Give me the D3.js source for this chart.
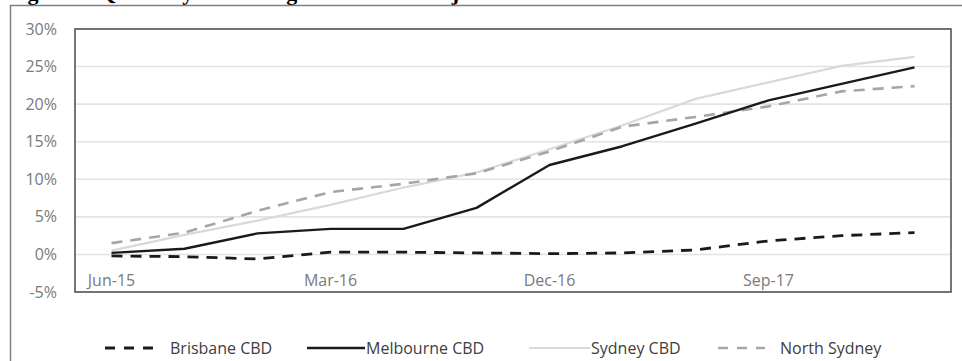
<!DOCTYPE html>
<html>
<head>
<meta charset="utf-8">
<script src="https://cdn.jsdelivr.net/npm/d3@7"></script>
<style>
  html, body { margin: 0; padding: 0; background: #fff; }
  svg { display: block; }
</style>
</head>
<body>
<svg id="chart" width="962" height="361"></svg>
<script>
// Quarterly periods, Jun-15 to Mar-18
const quarters = ["Jun-15","Sep-15","Dec-15","Mar-16","Jun-16","Sep-16","Dec-16","Mar-17","Jun-17","Sep-17","Dec-17","Mar-18"];
const xTickLabels = ["Jun-15","Mar-16","Dec-16","Sep-17"];
const yTicks = [-0.05, 0, 0.05, 0.10, 0.15, 0.20, 0.25, 0.30];

// Cumulative rent growth by market (fraction)
const brisbaneCBD  = [-0.002,-0.003,-0.006, 0.003, 0.003, 0.002, 0.001, 0.002, 0.006, 0.018, 0.025, 0.029];
const melbourneCBD = [ 0.002, 0.0075, 0.028, 0.034, 0.034, 0.062, 0.119, 0.144, 0.174, 0.205, 0.227, 0.249];
const sydneyCBD    = [ 0.005, 0.026, 0.045, 0.066, 0.089, 0.109, 0.140, 0.172, 0.207, 0.229, 0.251, 0.263];
const northSydney  = [ 0.015, 0.029, 0.058, 0.083, 0.094, 0.108, 0.137, 0.170, 0.183, 0.197, 0.217, 0.224];

const seriesNames = ["Brisbane CBD","Melbourne CBD","Sydney CBD","North Sydney"];

const styles = {
  "Brisbane CBD":  { color: "#1a1a1a", width: 2.8, dash: "11,8" },
  "Melbourne CBD": { color: "#1a1a1a", width: 2.4, dash: null },
  "Sydney CBD":    { color: "#d9d9d9", width: 2.2, dash: null },
  "North Sydney":  { color: "#a6a6a6", width: 2.6, dash: "11,8" }
};

const seriesData = {
  "Brisbane CBD": brisbaneCBD,
  "Melbourne CBD": melbourneCBD,
  "Sydney CBD": sydneyCBD,
  "North Sydney": northSydney
};

const svg = d3.select("#chart");
const plot = { left: 75, right: 951, top: 29, bottom: 292 };

// Figure caption (sits above the frame, mostly outside the page)
svg.append("text")
  .attr("x", 8).attr("y", 0)
  .attr("font-family", "Liberation Serif, serif")
  .attr("font-weight", "bold")
  .attr("font-size", 22)
  .attr("fill", "#000")
  .text("Figure 5: Quarterly face rent growth across major CBD markets");

// Outer chart frame
svg.append("path")
  .attr("d", `M10.5,${361 + 5} V5.5 H${962 + 5}`)
  .attr("fill", "none")
  .attr("stroke", "#808080")
  .attr("stroke-width", 1.5);

const x = d3.scaleBand().domain(quarters).range([plot.left, plot.right]);
const y = d3.scaleLinear().domain([-0.05, 0.30]).range([plot.bottom, plot.top]);
const cx = d => x(d) + x.bandwidth() / 2;

// Horizontal gridlines
svg.append("g")
  .selectAll("line")
  .data(yTicks)
  .join("line")
  .attr("x1", plot.left).attr("x2", plot.right)
  .attr("y1", d => y(d)).attr("y2", d => y(d))
  .attr("stroke", "#e3e3e3")
  .attr("stroke-width", 1.6);

// Y axis labels, hyphen-minus for negatives
const pct = d => Math.round(d * 100) + "%";
const yAxis = svg.append("g")
  .attr("transform", `translate(${plot.left},0)`)
  .call(d3.axisLeft(y).tickValues(yTicks).tickFormat(pct).tickSize(0).tickPadding(18));
yAxis.select(".domain").remove();
yAxis.selectAll("text")
  .attr("font-family", "Open Sans, sans-serif")
  .attr("font-size", 16)
  .attr("fill", "#7a7a7a");

// X axis labels, crossing at zero
const xAxis = svg.append("g")
  .attr("transform", `translate(0,${y(0)})`)
  .call(d3.axisBottom(x).tickValues(xTickLabels).tickSize(0).tickPadding(20));
xAxis.select(".domain").remove();
xAxis.selectAll("text")
  .attr("font-family", "Open Sans, sans-serif")
  .attr("font-size", 16)
  .attr("fill", "#7a7a7a");

// Series lines
const line = d3.line()
  .x((d, i) => cx(quarters[i]))
  .y(d => y(d));

const drawOrder = ["Sydney CBD","North Sydney","Melbourne CBD","Brisbane CBD"];
svg.append("g")
  .selectAll("path")
  .data(drawOrder)
  .join("path")
  .attr("d", name => line(seriesData[name]))
  .attr("fill", "none")
  .attr("stroke", name => styles[name].color)
  .attr("stroke-width", name => styles[name].width)
  .attr("stroke-dasharray", name => styles[name].dash)
  .attr("stroke-linejoin", "round");

// Plot area border
svg.append("rect")
  .attr("x", plot.left).attr("y", plot.top)
  .attr("width", plot.right - plot.left)
  .attr("height", plot.bottom - plot.top)
  .attr("fill", "none")
  .attr("stroke", "#555")
  .attr("stroke-width", 1.6);

// Legend
const legendItems = [
  { name: "Brisbane CBD",  x1: 105, x2: 153, tx: 170 },
  { name: "Melbourne CBD", x1: 307, x2: 365, tx: 366 },
  { name: "Sydney CBD",    x1: 529, x2: 590, tx: 591 },
  { name: "North Sydney",  x1: 718, x2: 765, tx: 780 }
];
const legendY = 348;
const lg = svg.append("g");
lg.selectAll("line")
  .data(legendItems)
  .join("line")
  .attr("x1", d => d.x1).attr("x2", d => d.x2)
  .attr("y1", legendY).attr("y2", legendY)
  .attr("stroke", d => styles[d.name].color)
  .attr("stroke-width", d => styles[d.name].width)
  .attr("stroke-dasharray", d => styles[d.name].dash ? "10,9" : null);
lg.selectAll("text")
  .data(legendItems)
  .join("text")
  .attr("x", d => d.tx)
  .attr("y", legendY)
  .attr("dy", "0.35em")
  .attr("font-family", "Open Sans, sans-serif")
  .attr("font-size", 16)
  .attr("fill", "#404040")
  .text(d => d.name);
</script>
</body>
</html>
